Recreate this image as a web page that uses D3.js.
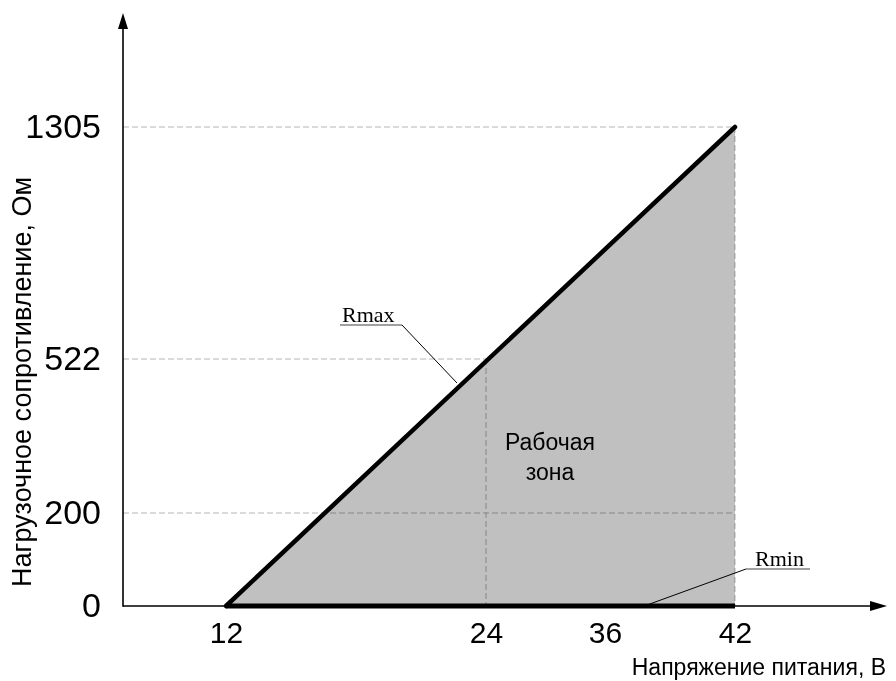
<!DOCTYPE html>
<html><head><meta charset="utf-8">
<script src="https://cdn.jsdelivr.net/npm/d3@7"></script>
<style>body{margin:0;background:#fff}</style>
</head><body>
<svg id="c" width="896" height="681"></svg>
<script>
const xTicks = [12, 24, 36, 42];
const yTicks = [0, 200, 522, 1305];
const voltage = [12, 42];
const rMax = [0, 1305];
const rMin = [0, 0];
const xTitle = "Напряжение питания, В";
const yTitle = "Нагрузочное сопротивление, Ом";
const zoneLabel = ["Рабочая", "зона"];

const svg = d3.select("#c");
const sans = "'Liberation Sans', Arial, sans-serif";
const serif = "'Liberation Serif', 'Times New Roman', serif";

// schematic (piecewise) scales as in the drawing
const x = d3.scaleLinear().domain(xTicks).range([226, 486, 605, 735]);
const y = d3.scaleLinear().domain(yTicks).range([606, 513, 359, 127]);
const x0 = 123, yTop = 13, xEnd = 887;

// working zone fill
const zone = [[voltage[0], rMin[0]], [voltage[1], rMax[1]], [voltage[1], rMin[1]]];
svg.append("path")
  .attr("d", d3.line().x(d => x(d[0])).y(d => y(d[1]))(zone) + "Z")
  .attr("fill", "#c0c0c0");

// dashed guides (multiply so they darken over the grey zone)
const guides = svg.append("g")
  .attr("stroke", "#b4b4b4").attr("stroke-width", 1)
  .attr("stroke-dasharray", "6,3").style("mix-blend-mode", "multiply");
[[200, 42], [522, 24], [1305, 42]].forEach(([v, xe]) => {
  guides.append("line").attr("x1", x0).attr("x2", x(xe)).attr("y1", y(v)).attr("y2", y(v));
});
[[24, 522], [42, 1305]].forEach(([xv, v]) => {
  guides.append("line").attr("x1", x(xv)).attr("x2", x(xv)).attr("y1", y(v)).attr("y2", y(0));
});

// axes
svg.append("line").attr("x1", x0).attr("x2", xEnd - 14).attr("y1", y(0)).attr("y2", y(0))
  .attr("stroke", "#000").attr("stroke-width", 1.6);
svg.append("line").attr("x1", x0).attr("x2", x0).attr("y1", y(0) + 0.8).attr("y2", yTop + 14)
  .attr("stroke", "#000").attr("stroke-width", 1.6);
svg.append("path").attr("d", `M${xEnd},${y(0)} L${xEnd - 17},${y(0) - 5} L${xEnd - 17},${y(0) + 5}Z`).attr("fill", "#000");
svg.append("path").attr("d", `M${x0},${yTop} L${x0 - 5},${yTop + 16} L${x0 + 5},${yTop + 16}Z`).attr("fill", "#000");

// lines Rmax and Rmin
const ln = d3.line().x((d, i) => x(voltage[i])).y(d => y(d));
svg.append("path").attr("d", ln(rMin)).attr("stroke", "#000").attr("stroke-width", 5).attr("fill", "none");
svg.append("path").attr("d", ln(rMax)).attr("stroke", "#000").attr("stroke-width", 4.5)
  .attr("stroke-linecap", "round").attr("fill", "none");

// tick labels via d3 axes
const ax = svg.append("g").attr("transform", `translate(0,${y(0)})`)
  .call(d3.axisBottom(x).tickValues(xTicks).tickFormat(d3.format("d")).tickSize(0).tickPadding(16));
ax.select(".domain").remove();
ax.selectAll("text").attr("font-family", sans).attr("font-size", 30).attr("fill", "#000");

const ay = svg.append("g").attr("transform", `translate(${x0},0)`)
  .call(d3.axisLeft(y).tickValues(yTicks).tickFormat(d3.format("d")).tickSize(0).tickPadding(22));
ay.select(".domain").remove();
ay.selectAll("text").attr("font-family", sans).attr("font-size", 34).attr("fill", "#000");

// axis titles
svg.append("text").attr("x", 886).attr("y", 675).attr("text-anchor", "end")
  .attr("font-family", sans).attr("font-size", 23).text(xTitle);
svg.append("text").attr("transform", `translate(31,${(172 + 592) / 2}) rotate(-90)`)
  .attr("text-anchor", "middle").attr("font-family", sans).attr("font-size", 27).text(yTitle);

// zone label
const zt = svg.append("text").attr("text-anchor", "middle").attr("font-family", sans).attr("font-size", 23);
zoneLabel.forEach((s, i) => zt.append("tspan").attr("x", 550).attr("y", 450 + i * 30).text(s));

// callouts
function callout(label, tx, ty, ux1, ux2, px, py) {
  svg.append("text").attr("x", tx).attr("y", ty).attr("font-family", serif).attr("font-size", 22).text(label);
  svg.append("path").attr("d", `M${ux1},${ty + 3} L${ux2},${ty + 3}`).attr("stroke", "#808080").attr("stroke-width", 1.3);
  const lx = ux1 < px ? ux2 : ux1;
  svg.append("line").attr("x1", lx).attr("y1", ty + 3).attr("x2", px).attr("y2", py)
    .attr("stroke", "#000").attr("stroke-width", 1);
}
callout("Rmax", 342, 322, 340, 402, 457, 383);
callout("Rmin", 755, 566, 746, 810, 647, 605);
</script>
</body></html>
